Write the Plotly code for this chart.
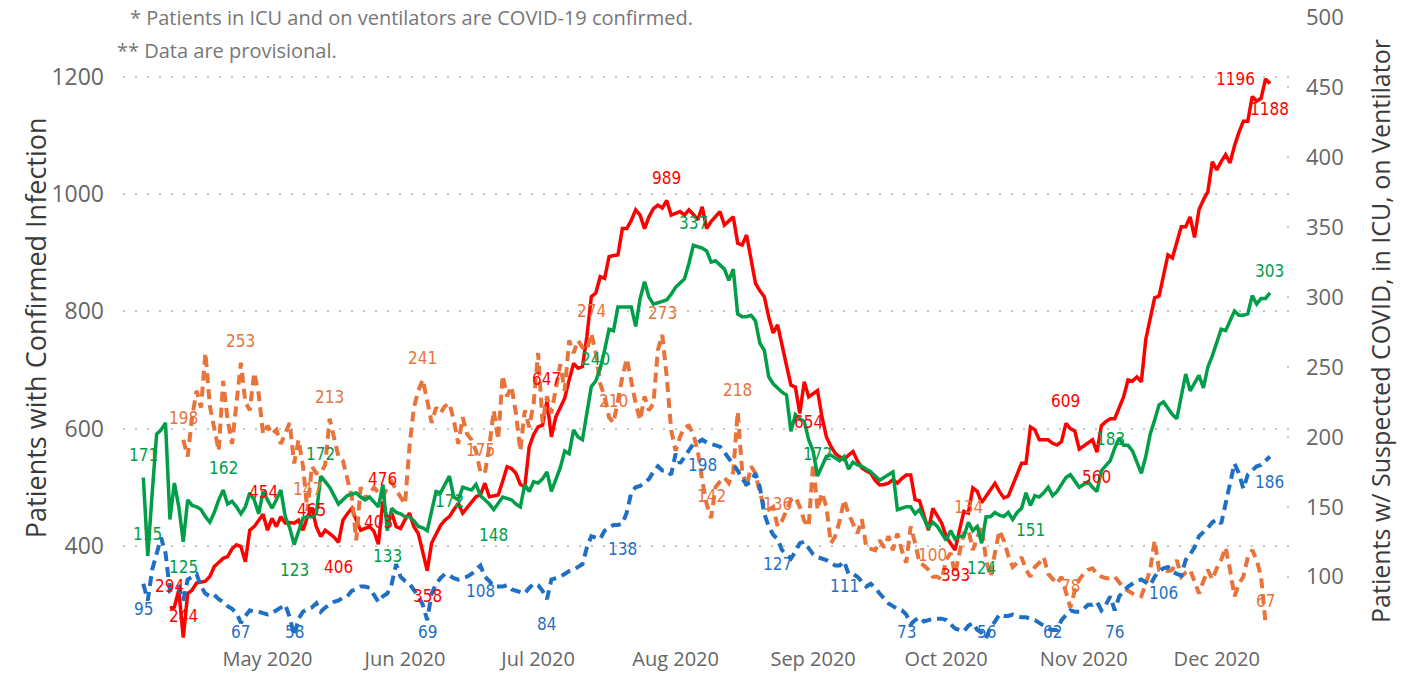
import pandas as pd
import plotly.graph_objects as go

# ---------------- data (daily values) ----------------
red_start = "2020-04-09"   # Patients with confirmed infection (left axis)
red_vals = [
    294, 296, 325, 244, 319, 325, 337, 339, 340, 348,
    365, 372, 379, 382, 395, 402, 399, 373, 427, 433,
    444, 454, 427, 447, 433, 450, 439, 440, 439, 444,
    427, 450, 465, 433, 416, 427, 421, 415, 406, 444,
    455, 464, 444, 427, 430, 433, 425, 403, 476, 444,
    456, 433, 430, 445, 456, 433, 421, 390, 358, 405,
    421, 435, 444, 450, 462, 473, 456, 465, 475, 484,
    487, 507, 484, 485, 487, 510, 535, 532, 524, 505,
    501, 569, 590, 603, 606, 647, 586, 620, 635, 652,
    683, 711, 703, 706, 757, 825, 831, 859, 856, 893,
    895, 896, 941, 941, 955, 973, 964, 941, 961, 975,
    981, 976, 989, 964, 967, 970, 964, 973, 965, 956,
    978, 941, 953, 962, 970, 947, 955, 961, 916, 913,
    930, 890, 848, 835, 825, 790, 763, 777, 740, 708,
    674, 671, 626, 680, 654, 660, 665, 620, 586, 570,
    558, 552, 547, 555, 561, 545, 533, 528, 524, 512,
    504, 505, 507, 513, 507, 515, 521, 521, 479, 477,
    450, 427, 464, 450, 439, 416, 405, 393, 427, 459,
    456, 499, 493, 474, 485, 495, 507, 493, 482, 485,
    505, 521, 541, 541, 603, 598, 581, 581, 581, 575,
    572, 578, 609, 600, 596, 565, 570, 575, 581, 560,
    605, 612, 617, 617, 635, 654, 683, 681, 688, 680,
    752, 790, 823, 826, 860, 896, 891, 920, 944, 944,
    961, 926, 973, 990, 1004, 1055, 1041, 1055, 1067, 1053,
    1082, 1105, 1124, 1124, 1166, 1158, 1163, 1196, 1188,
]

green_start = "2020-04-03"  # ICU (right axis)
green_vals = [
    171, 115, 160, 202, 205, 210, 141, 167, 150, 125,
    155, 151, 150, 148, 143, 139, 146, 155, 162, 152,
    154, 150, 145, 150, 160, 155, 145, 161, 155, 149,
    155, 162, 143, 135, 123, 133, 142, 143, 143, 145,
    172, 168, 164, 158, 152, 155, 158, 159, 160, 157,
    155, 157, 153, 150, 166, 133, 149, 146, 145, 143,
    143, 140, 136, 135, 133, 147, 161, 160, 166, 172,
    157, 155, 164, 163, 162, 166, 158, 155, 152, 148,
    153, 157, 156, 155, 152, 150, 166, 161, 168, 167,
    170, 175, 161, 170, 178, 190, 188, 205, 200, 198,
    216, 236, 240, 249, 262, 277, 276, 293, 293, 293,
    293, 279, 299, 311, 300, 295, 296, 297, 298, 302,
    307, 310, 313, 324, 337, 336, 335, 333, 325, 326,
    323, 320, 312, 320, 288, 286, 286, 287, 283, 267,
    262, 243, 238, 235, 232, 230, 204, 216, 213, 211,
    198, 190, 172, 179, 186, 187, 185, 183, 186, 177,
    182, 180, 179, 177, 175, 172, 169, 171, 173, 175,
    148, 149, 150, 150, 145, 148, 141, 135, 139, 136,
    131, 126, 133, 127, 129, 129, 139, 133, 136, 124,
    143, 143, 146, 144, 143, 146, 141, 146, 149, 160,
    151, 158, 157, 160, 164, 158, 161, 166, 171, 173,
    168, 164, 166, 168, 164, 161, 176, 180, 183, 192,
    199, 194, 194, 190, 182, 174, 186, 202, 212, 223,
    225, 220, 216, 213, 230, 245, 233, 238, 244, 235,
    250, 258, 268, 277, 276, 283, 290, 287, 287, 288,
    301, 295, 299, 299, 303,
]

blue_start = "2020-04-03"   # On ventilator (right axis)
blue_vals = [
    95, 83, 105, 117, 128, 117, 90, 92, 93, 83,
    98, 100, 102, 93, 88, 86, 87, 84, 82, 79,
    77, 74, 67, 72, 76, 75, 75, 74, 73, 74,
    76, 78, 80, 71, 58, 70, 75, 77, 78, 81,
    75, 78, 80, 82, 83, 85, 86, 90, 91, 93,
    93, 92, 87, 82, 86, 88, 95, 109, 100, 97,
    95, 91, 86, 80, 69, 88, 95, 99, 102, 101,
    99, 98, 99, 100, 102, 105, 108, 100, 97, 93,
    93, 93, 94, 91, 90, 89, 88, 92, 95, 94,
    90, 84, 98, 99, 100, 102, 104, 105, 107, 109,
    121, 129, 128, 127, 133, 135, 137, 137, 138, 146,
    160, 164, 165, 167, 170, 175, 179, 176, 176, 173,
    188, 181, 186, 190, 195, 196, 198, 196, 195, 194,
    193, 189, 185, 180, 176, 170, 166, 168, 174, 164,
    145, 136, 130, 127, 119, 116, 113, 118, 124, 125,
    120, 116, 114, 113, 112, 110, 108, 108, 111, 102,
    102, 100, 96, 93, 95, 92, 88, 84, 81, 79,
    77, 76, 73, 66, 69, 71, 68, 69, 70, 70,
    70, 69, 66, 63, 62, 61, 65, 67, 62, 60,
    56, 64, 68, 73, 72, 72, 73, 72, 71, 71,
    70, 69, 67, 65, 63, 62, 62, 69, 73, 76,
    75, 75, 77, 80, 80, 82, 76, 80, 86, 76,
    86, 90, 93, 95, 97, 98, 96, 94, 100, 104,
    106, 107, 104, 102, 101, 112, 116, 121, 129, 132,
    135, 139, 141, 138, 152, 169, 181, 174, 163, 173,
    176, 179, 180, 183, 186,
]

orange_start = "2020-04-12"  # Suspected COVID (right axis)
orange_vals = [
    198, 186, 214, 233, 221, 260, 222, 205, 190, 240,
    212, 195, 226, 253, 225, 219, 246, 231, 202, 208,
    202, 205, 195, 203, 210, 181, 198, 179, 147, 179,
    174, 174, 180, 213, 198, 186, 183, 171, 157, 126,
    164, 155, 160, 164, 160, 157, 164, 168, 162, 157,
    152, 193, 221, 233, 241, 226, 210, 221, 217, 222,
    224, 212, 195, 214, 202, 198, 190, 175, 174, 193,
    219, 198, 244, 229, 236, 217, 190, 219, 207, 224,
    260, 210, 229, 217, 233, 252, 233, 269, 260, 269,
    264, 262, 274, 260, 238, 229, 214, 210, 226, 243,
    256, 238, 224, 212, 229, 219, 224, 262, 273, 243,
    205, 190, 200, 207, 208, 202, 190, 169, 152, 142,
    164, 168, 171, 167, 175, 218, 176, 164, 179, 174,
    160, 150, 148, 150, 136, 140, 148, 155, 157, 150,
    140, 136, 181, 148, 160, 150, 124, 129, 140, 155,
    145, 138, 131, 141, 121, 120, 119, 126, 121, 129,
    119, 131, 119, 110, 136, 124, 110, 108, 105, 100,
    100, 98, 112, 117, 102, 117, 131, 134, 119, 128,
    136, 112, 100, 117, 133, 126, 115, 107, 110, 114,
    105, 100, 107, 110, 114, 102, 98, 95, 100, 90,
    78, 90, 98, 102, 105, 106, 102, 100, 99, 99,
    100, 96, 92, 90, 88, 87, 86, 95, 105, 126,
    105, 105, 104, 105, 112, 100, 103, 105, 96, 88,
    97, 105, 98, 106, 112, 121, 105, 86, 95, 100,
    114, 119, 112, 100, 67,
]

# data labels shown on the chart (dates of labelled points; a = above, b = below,
# c = on the point, l = left of the point, f = kept at the floor of the plot area)
red_label_dates = ["2020-04-09", "2020-04-12", "2020-04-30", "2020-05-11", "2020-05-17",
                   "2020-05-26", "2020-05-27", "2020-06-06", "2020-07-03", "2020-07-30",
                   "2020-08-31", "2020-10-03", "2020-10-28", "2020-11-04", "2020-12-12",
                   "2020-12-13"]
red_label_pos = ["a", "a", "a", "c", "b", "a", "a", "b", "a", "a",
                 "b", "b", "a", "b", "l", "b"]

green_label_dates = ["2020-04-03", "2020-04-04", "2020-04-12", "2020-04-21", "2020-05-07",
                     "2020-05-13", "2020-05-28", "2020-06-11", "2020-06-21", "2020-07-14",
                     "2020-08-05", "2020-09-02", "2020-10-09", "2020-10-20", "2020-11-07",
                     "2020-12-13"]
green_label_pos = ["a", "a", "b", "a", "b", "a", "b", "b", "b", "a",
                   "a", "a", "b", "b", "a", "a"]

blue_label_dates = ["2020-04-03", "2020-04-25", "2020-05-07", "2020-06-06", "2020-06-18",
                    "2020-07-03", "2020-07-20", "2020-08-07", "2020-08-24", "2020-09-08",
                    "2020-09-22", "2020-10-10", "2020-10-25", "2020-11-08", "2020-11-19",
                    "2020-12-13"]
blue_label_pos = ["b", "f", "f", "f", "b", "b", "b", "b", "b", "b",
                  "f", "f", "f", "f", "b", "b"]

orange_label_dates = ["2020-04-12", "2020-04-25", "2020-05-10", "2020-05-15", "2020-06-05",
                      "2020-06-18", "2020-07-13", "2020-07-18", "2020-07-29", "2020-08-09",
                      "2020-08-15", "2020-08-24", "2020-09-28", "2020-10-06", "2020-10-29",
                      "2020-12-12"]
orange_label_pos = ["a"] * len(orange_label_dates)

month_ticks = ["2020-05-01", "2020-06-01", "2020-07-01", "2020-08-01",
               "2020-09-01", "2020-10-01", "2020-11-01", "2020-12-01"]
month_labels = ["May 2020", "Jun 2020", "Jul 2020", "Aug 2020",
                "Sep 2020", "Oct 2020", "Nov 2020", "Dec 2020"]
left_ticks = [400, 600, 800, 1000, 1200]
right_ticks = [100, 150, 200, 250, 300, 350, 400, 450, 500]

# ---------------- styling ----------------
RED = "#FF0000"
GREEN = "#009E49"
ORANGE = "#E8743B"
BLUE = "#1F6FC5"
LABEL_FONT = "DejaVu Sans Condensed, Liberation Sans Narrow, Roboto, sans-serif"
UI_FONT = "Segoe UI, Open Sans, Noto Sans, sans-serif"
SHIFTS = {"a": (0, 22), "b": (0, -25), "c": (0, -2), "l": (-30, 0), "f": (0, 0)}
FLOOR_Y = 0.0207   # paper position where labels are kept inside the plot area


def series(start, vals):
    return pd.Series(vals, index=pd.date_range(start, periods=len(vals), freq="D"))


red = series(red_start, red_vals)
green = series(green_start, green_vals)
blue = series(blue_start, blue_vals)
orange = series(orange_start, orange_vals)

fig = go.Figure()
label_annotations = []


def add_line(s, color, dash, width, yaxis):
    fig.add_trace(go.Scatter(x=s.index, y=s.values, mode="lines",
                             line=dict(color=color, width=width, dash=dash),
                             yaxis=yaxis, hoverinfo="skip", showlegend=False))


def add_labels(s, dates, pos, color, yref):
    for d, p in zip(dates, pos):
        v = int(s.loc[pd.Timestamp(d)])
        dx, dy = SHIFTS[p]
        ann = dict(x=d, y=v, xref="x", yref=yref, text=str(v), showarrow=False,
                   xanchor="center", yanchor="middle", xshift=dx, yshift=dy,
                   font=dict(family=LABEL_FONT, size=17, color=color))
        if p == "f":
            ann.update(yref="paper", y=FLOOR_Y)
        label_annotations.append(ann)


add_line(red, RED, "solid", 3.5, "y")
add_line(orange, ORANGE, "10px,6px", 4, "y2")
add_line(blue, BLUE, "10px,6px", 4, "y2")
add_line(green, GREEN, "solid", 3.5, "y2")
add_labels(red, red_label_dates, red_label_pos, RED, "y")
add_labels(orange, orange_label_dates, orange_label_pos, ORANGE, "y2")
add_labels(blue, blue_label_dates, blue_label_pos, BLUE, "y2")
add_labels(green, green_label_dates, green_label_pos, GREEN, "y2")

text_annotations = [
    dict(text="Patients with Confirmed Infection", textangle=-90,
         xref="paper", yref="paper", x=-0.0755, y=0.506,
         xanchor="center", yanchor="middle", showarrow=False,
         font=dict(size=27, color="#3a3a3a", family=UI_FONT)),
    dict(text="Patients w/ Suspected COVID, in ICU, on Ventilator", textangle=-90,
         xref="paper", yref="paper", x=1.078, y=0.5,
         xanchor="center", yanchor="middle", showarrow=False,
         font=dict(size=25, color="#3a3a3a", family=UI_FONT)),
    dict(text="* Patients in ICU and on ventilators are COVID-19 confirmed.",
         xref="paper", yref="paper", x=0.004, y=1.0,
         xanchor="left", yanchor="middle", showarrow=False,
         font=dict(size=20, color="#777777", family=UI_FONT)),
    dict(text="** Data are provisional.",
         xref="paper", yref="paper", x=-0.0069, y=0.947,
         xanchor="left", yanchor="middle", showarrow=False,
         font=dict(size=20, color="#777777", family=UI_FONT)),
]

fig.update_layout(
    width=1407, height=675,
    margin=dict(l=123, r=118, t=17, b=30),
    paper_bgcolor="white", plot_bgcolor="white",
    showlegend=False,
    font=dict(family=UI_FONT, color="#666666"),
    xaxis=dict(type="date", range=["2020-03-29 10:00", "2020-12-17 07:00"],
               tickvals=month_ticks, ticktext=month_labels,
               tickfont=dict(size=20, color="#666666"), automargin=False,
               ticklabeloverflow="allow",
               showgrid=False, zeroline=False, showline=False, ticks=""),
    yaxis=dict(range=[231.3, 1301.6], tickvals=left_ticks, automargin=False,
               tickfont=dict(size=23, color="#666666"), ticklabeloverflow="allow",
               showgrid=True, gridcolor="#c4c4c4", gridwidth=1.5, griddash="2px,10px",
               zeroline=False, showline=False, ticklabelstandoff=18),
    yaxis2=dict(range=[51.2, 500.3], tickvals=right_ticks, overlaying="y", side="right",
                tickfont=dict(size=22, color="#666666"), automargin=False,
                ticklabeloverflow="allow", ticks="inside", ticklen=2, tickwidth=2,
                tickcolor="#cccccc",
                showgrid=False, zeroline=False, showline=False, ticklabelstandoff=16),
    annotations=text_annotations + label_annotations,
)

fig.write_html(
    "out.html",
    config={"displayModeBar": False},
    post_script="document.body.style.margin='0';document.body.style.overflow='hidden';",
)
